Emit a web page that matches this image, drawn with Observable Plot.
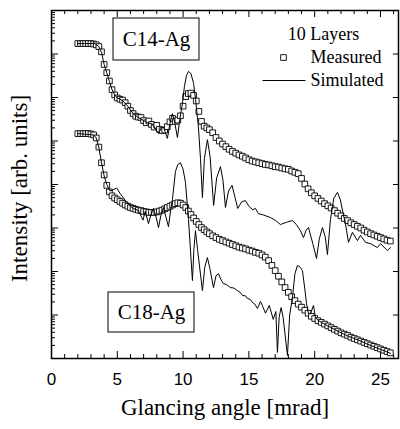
<!DOCTYPE html>
<html><head><meta charset="utf-8">
<script src="https://cdn.jsdelivr.net/npm/d3@7"></script>
<script src="https://cdn.jsdelivr.net/npm/@observablehq/plot@0.6"></script>
<style>body{margin:0;background:#fff}</style>
</head><body><div id="chart"></div>
<script>
// Glancing angle grid of the measured points [mrad]
const angleMeasured = [
  2.0,2.2,2.4,2.6,2.8,3.0,3.2,3.4,3.6,3.8,
  4.0,4.2,4.4,4.6,4.8,5.0,5.2,5.4,5.6,5.8,
  6.0,6.2,6.4,6.6,6.8,7.0,7.2,7.4,7.6,7.8,
  8.0,8.2,8.4,8.6,8.8,9.0,9.2,9.4,9.6,9.8,
  10.0,10.2,10.4,10.6,10.8,11.0,11.2,11.4,11.6,11.8,
  12.0,12.25,12.5,12.75,13.0,13.25,13.5,13.75,14.0,14.25,
  14.5,14.75,15.0,15.25,15.5,15.75,16.0,16.25,16.5,16.75,
  17.0,17.25,17.5,17.75,18.0,18.25,18.5,18.75,19.0,19.25,
  19.5,19.75,20.0,20.25,20.5,20.75,21.0,21.25,21.5,21.75,
  22.0,22.25,22.5,22.75,23.0,23.25,23.5,23.75,24.0,24.25,
  24.5,24.75,25.0,25.25,25.5,25.75
];
// log10 of intensity (arb. units), measured
const c14Measured = [
  7.24,7.24,7.24,7.24,7.24,7.24,7.23,7.21,7.17,7.05,
  6.76,6.57,6.38,6.18,6.06,5.99,5.96,5.94,5.88,5.80,
  5.70,5.63,5.57,5.55,5.54,5.47,5.42,5.46,5.38,5.32,
  5.36,5.27,5.24,5.25,5.33,5.44,5.52,5.45,5.48,5.58,
  5.80,6.02,6.09,6.10,6.05,5.92,5.68,5.45,5.34,5.30,
  5.26,5.19,5.08,5.00,4.93,4.87,4.81,4.76,4.72,4.68,
  4.65,4.61,4.57,4.54,4.52,4.50,4.48,4.46,4.45,4.43,
  4.41,4.40,4.38,4.36,4.35,4.31,4.28,4.25,4.14,4.01,
  3.90,3.81,3.74,3.68,3.62,3.56,3.51,3.46,3.40,3.34,
  3.28,3.22,3.17,3.12,3.08,3.04,3.00,2.95,2.91,2.87,
  2.84,2.81,2.78,2.75,2.72,2.70
];
const c18Measured = [
  5.17,5.17,5.17,5.17,5.17,5.16,5.14,5.07,4.86,4.50,
  4.22,3.98,3.83,3.74,3.69,3.65,3.61,3.57,3.53,3.50,
  3.47,3.45,3.43,3.41,3.40,3.38,3.37,3.36,3.36,3.36,
  3.37,3.39,3.41,3.44,3.47,3.50,3.53,3.56,3.58,3.57,
  3.53,3.47,3.39,3.31,3.23,3.15,3.08,3.01,2.96,2.91,
  2.87,2.82,2.78,2.74,2.71,2.68,2.65,2.62,2.59,2.56,
  2.54,2.52,2.49,2.47,2.44,2.42,2.38,2.33,2.25,2.14,
  2.02,1.89,1.76,1.63,1.52,1.42,1.33,1.25,1.18,1.11,
  1.04,0.97,0.92,0.87,0.83,0.79,0.75,0.71,0.67,0.63,
  0.59,0.56,0.53,0.49,0.46,0.43,0.40,0.37,0.34,0.31,
  0.28,0.25,0.22,0.19,0.16,0.13
];
// Simulated curves (angle, log10 intensity)
const c14SimAngle = [
  2.0,3.3,3.6,3.8,4.0,4.2,4.4,4.6,4.8,5.0,5.4,5.8,6.2,6.6,7.0,7.3,7.6,7.85,8.13,8.35,
  8.51,8.65,8.81,9.0,9.19,9.38,9.57,9.75,9.95,10.1,10.25,10.41,10.6,10.8,10.95,11.17,11.32,11.47,11.62,11.85,
  12.05,12.32,12.55,12.84,13.03,13.22,13.45,13.72,13.95,14.15,14.45,14.74,15.0,15.3,15.5,15.73,16.1,16.64,17.0,17.4,
  17.93,18.31,18.6,18.9,19.15,19.35,19.53,19.85,20.14,20.35,20.59,20.8,20.97,21.2,21.45,21.73,21.95,22.15,22.34,22.57,
  22.87,23.25,23.48,23.86,24.24,24.77,25.0,25.53,25.76
];
const c14Sim = [
  7.24,7.24,7.17,7.04,6.76,6.57,6.37,6.18,6.06,5.99,5.93,5.80,5.63,5.54,5.47,5.42,5.40,5.30,5.17,5.30,
  5.32,5.20,5.06,5.40,5.63,5.40,5.08,5.50,5.86,6.25,6.50,6.60,6.55,6.32,5.95,5.30,4.60,3.70,4.60,5.03,
  4.65,3.52,4.15,4.41,4.10,3.47,3.85,3.98,3.70,3.45,3.60,3.63,3.50,3.42,3.45,3.33,3.30,3.24,3.18,3.08,
  3.14,3.17,3.08,2.95,2.78,2.95,3.01,2.65,2.30,2.75,3.01,2.80,2.39,3.20,3.68,3.82,3.65,3.35,3.10,2.67,
  2.90,2.71,2.83,2.67,2.64,2.55,2.64,2.48,2.55
];
const c18SimAngle = [
  2.0,3.2,3.4,3.6,3.8,4.0,4.2,4.45,4.7,4.95,5.2,5.62,6.0,6.23,6.6,6.95,7.12,7.37,7.55,7.75,
  7.95,8.13,8.32,8.51,8.7,8.89,9.05,9.19,9.42,9.6,9.8,10.0,10.18,10.41,10.71,10.82,10.94,11.1,11.47,11.65,
  11.85,12.05,12.31,12.5,12.69,12.9,13.07,13.3,13.6,13.85,14.13,14.35,14.51,14.75,14.89,15.1,15.27,15.45,15.65,15.88,
  16.05,16.26,16.55,16.85,17.05,17.17,17.3,17.45,17.6,17.93,18.1,18.31,18.5,18.69,18.9,19.07,19.25,19.38,19.53,19.68,
  19.91,20.06,20.25,20.5,20.75,21.0,21.5,22.0,22.5,23.0,23.5,24.0,24.5,25.0,25.5,25.76
];
const c18Sim = [
  5.17,5.14,5.07,4.85,4.50,4.20,4.00,3.85,3.88,3.92,3.80,3.63,3.50,3.45,3.40,3.18,3.38,3.10,3.30,3.45,
  3.25,3.01,3.30,3.47,3.25,3.03,3.40,3.65,4.30,4.46,4.50,4.35,4.05,3.20,1.79,2.50,2.94,2.50,1.56,2.10,
  2.32,2.05,1.63,1.90,1.95,1.80,1.72,1.70,1.63,1.62,1.56,1.52,1.45,1.44,1.38,1.36,1.29,1.25,1.15,1.31,
  1.20,1.04,1.22,0.90,1.08,0.14,0.95,1.17,0.95,0.07,1.00,1.40,1.95,2.14,2.10,2.02,1.60,1.26,1.03,1.03,
  1.22,0.94,0.88,0.83,0.79,0.75,0.67,0.59,0.52,0.46,0.40,0.33,0.27,0.21,0.15,0.12
];
const xTickLabels = [0, 5, 10, 15, 20, 25];
const panelLabels = ["C14-Ag", "C18-Ag"];
const legendTitle = "10 Layers";
const legendNames = ["Measured", "Simulated"];

const pts = (xs, ys) => xs.map((x, i) => ({x, y: 10 ** ys[i]}));
const X_MAX = 26.37;
const W = 400, H = 429, ML = 51, MR = 2, MT = 10, MB = 71;
const uPerPxX = X_MAX / (W - ML - MR);
const decPerPxY = 8 / (H - MT - MB);
const px2x = p => (p - ML) * uPerPxX;
const px2y = p => 10 ** ((H - MB - p) * decPerPxY);

const xMinor = d3.range(0, 27).filter(v => v % 5 !== 0);
const yMajor = d3.range(0, 9).map(k => 10 ** k);
const yMinor = d3.range(0, 8).flatMap(k => d3.range(2, 10).map(m => m * 10 ** k));
const serif = "Liberation Serif, Times New Roman, serif";

const sq = {symbol: "square", r: 3.2, fill: "white", stroke: "black", strokeWidth: 0.9};

const chart = Plot.plot({
  width: W, height: H, marginLeft: ML, marginRight: MR, marginTop: MT, marginBottom: MB,
  style: {background: "white", color: "black", fontFamily: "Liberation Sans, Arial, sans-serif", fontSize: "17px"},
  x: {domain: [0, X_MAX], ticks: xTickLabels, tickSize: 0, tickPadding: 14, label: null},
  y: {type: "log", domain: [1, 1e8], axis: null},
  marks: [
    // ticks (inward)
    Plot.ruleX(xMinor, {y1: 1, y2: px2y(H - MB - 4), stroke: "black"}),
    Plot.ruleX(xTickLabels, {y1: 1, y2: px2y(H - MB - 7), stroke: "black"}),
    Plot.ruleX(xMinor, {y1: 1e8, y2: px2y(MT + 4), stroke: "black"}),
    Plot.ruleX(xTickLabels, {y1: 1e8, y2: px2y(MT + 7), stroke: "black"}),
    Plot.ruleY(yMinor, {x1: 0, x2: px2x(ML + 4), stroke: "black"}),
    Plot.ruleY(yMajor, {x1: 0, x2: px2x(ML + 7), stroke: "black"}),
    Plot.ruleY(yMajor, {x1: px2x(W - MR - 5), x2: X_MAX, stroke: "black"}),
    // data
    Plot.dot(pts(angleMeasured, c14Measured), {x: "x", y: "y", ...sq}),
    Plot.dot(pts(angleMeasured, c18Measured), {x: "x", y: "y", ...sq}),
    Plot.line(pts(c14SimAngle, c14Sim), {x: "x", y: "y", stroke: "black", strokeWidth: 1}),
    Plot.line(pts(c18SimAngle, c18Sim), {x: "x", y: "y", stroke: "black", strokeWidth: 1}),
    // panel labels
    Plot.rect([{x1: px2x(113), x2: px2x(199), y1: px2y(60), y2: px2y(18)},
               {x1: px2x(108), x2: px2x(194), y1: px2y(332), y2: px2y(292)}],
              {x1: "x1", x2: "x2", y1: "y1", y2: "y2", fill: "white", stroke: "black", strokeWidth: 1}),
    Plot.text([{t: panelLabels[0], x: px2x(156), y: px2y(39)}, {t: panelLabels[1], x: px2x(151), y: px2y(312)}],
              {x: "x", y: "y", text: "t", fontSize: 21, fontFamily: serif, fill: "black"}),
    // legend
    Plot.text([legendTitle], {x: px2x(323), y: px2y(34), fontSize: 18, fontFamily: serif, fill: "black"}),
    Plot.dot([{x: px2x(283), y: px2y(57)}], {x: "x", y: "y", ...sq}),
    Plot.link([{x1: px2x(262), x2: px2x(305), y: px2y(80)}], {x1: "x1", x2: "x2", y1: "y", y2: "y", stroke: "black", strokeWidth: 1}),
    Plot.text([{t: legendNames[0], x: px2x(310), y: px2y(57)}, {t: legendNames[1], x: px2x(310), y: px2y(80)}],
              {x: "x", y: "y", text: "t", textAnchor: "start", fontSize: 18, fontFamily: serif, fill: "black"}),
    // axis titles
    Plot.text(["Glancing angle [mrad]"], {frameAnchor: "bottom", dy: 56, fontSize: 23, fontFamily: serif, fill: "black"}),
    Plot.text(["Intensity [arb. units]"], {frameAnchor: "left", textAnchor: "middle", dx: -32, dy: 4, rotate: -90, fontSize: 23, fontFamily: serif, fill: "black"}),
    Plot.frame({stroke: "black", strokeWidth: 1.5})
  ]
});
document.getElementById("chart").appendChild(chart);
</script>
</body></html>
